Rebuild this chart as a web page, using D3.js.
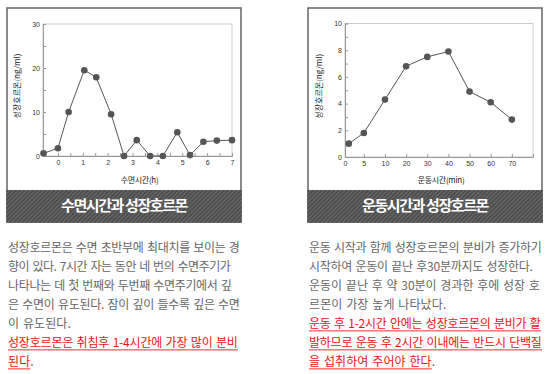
<!DOCTYPE html>
<html>
<head>
<meta charset="utf-8">
<script src="https://cdn.jsdelivr.net/npm/d3@7"></script>
<style>
body { margin: 0; background: #fff; }
svg { display: block; font-family: "Noto Sans CJK KR", "Noto Sans", sans-serif; }
.tick text { font-size: 7px; fill: #333; font-family: "Liberation Sans", "DejaVu Sans", sans-serif; }
</style>
</head>
<body>
<svg width="550" height="374"></svg>
<script>
// 수면시간 / 성장호르몬
var sleepHours = [-0.58, 0, 0.43, 1.06, 1.54, 2.14, 2.66, 3.17, 3.71, 4.22, 4.8, 5.31, 5.85, 6.39, 7];
var sleepGH = [0.6, 1.75, 10, 19.5, 17.9, 9.5, 0, 3.6, 0, 0, 5.4, 0.2, 3.25, 3.5, 3.6];
var sleepXTicks = [0, 1, 2, 3, 4, 5, 6, 7];
var sleepYTicks = [0, 10, 20, 30];

// 운동시간 / 성장호르몬
var exMinutes = [1, 5, 10, 20, 30, 40, 50, 60, 70];
var exGH = [1.0, 1.8, 4.3, 6.8, 7.5, 7.9, 4.9, 4.1, 2.8];
var exXTicks = [0, 5, 10, 20, 30, 40, 50, 60, 70];
var exYTicks = [0, 2, 4, 6, 8, 10];

var titles = ["수면시간과 성장호르몬", "운동시간과 성장호르몬"];
var xLabels = ["수면시간(h)", "운동시간(min)"];
var yLabel = "성장호르몬(ng/ml)";

var leftText = ["성장호르몬은 수면 초반부에 최대치를 보이는 경",
                "향이 있다. 7시간 자는 동안 네 번의 수면주기가",
                "나타나는 데 첫 번째와 두번째 수면주기에서 깊",
                "은 수면이 유도된다. 잠이 깊이 들수록 깊은 수면",
                "이 유도된다."];
var leftRed = ["성장호르몬은 취침후 1-4시간에 가장 많이 분비", "된다"];
var rightText = ["운동 시작과 함께 성장호르몬의 분비가 증가하기",
                 "시작하여 운동이 끝난 후30분까지도 성장한다.",
                 "운동이 끝난 후 약 30분이 경과한 후에 성장 호",
                 "르몬이 가장 높게 나타났다."];
var rightRed = ["운동 후 1-2시간 안에는 성장호르몬의 분비가 활",
                "발하므로 운동 후 2시간 이내에는 반드시 단백질",
                "을 섭취하여 주어야 한다"];
// widths of the wrapped lines (0 = natural width)
var leftWidths = [232, 223, 224, 232, 0, 230, 0];
var rightWidths = [233, 224, 231, 0, 232, 233, 0];

var svg = d3.select("svg");

var defs = svg.append("defs");
var pat = defs.append("pattern")
    .attr("id", "hatch")
    .attr("patternUnits", "userSpaceOnUse")
    .attr("width", 3).attr("height", 3)
    .attr("patternTransform", "rotate(45)");
pat.append("rect").attr("width", 3).attr("height", 3).attr("fill", "#4e4e4e");
pat.append("line").attr("x1", 0.5).attr("x2", 0.5).attr("y1", 0).attr("y2", 3)
    .attr("stroke", "#6c6c6c").attr("stroke-width", 1);

// panel boxes
var panelX = [7, 308], panelW = 234, panelTop = 8, bandTop = 190, bandBottom = 222;

panelX.forEach(function(px, i) {
    svg.append("rect")
        .attr("x", px).attr("y", panelTop)
        .attr("width", panelW).attr("height", bandBottom - panelTop)
        .attr("fill", "#fff").attr("stroke", "#666").attr("stroke-width", 1.5);
    svg.append("rect")
        .attr("x", px - 0.75).attr("y", bandTop)
        .attr("width", panelW + 1.5).attr("height", bandBottom - bandTop + 0.75)
        .attr("fill", "url(#hatch)");
    svg.append("text")
        .attr("x", px + panelW / 2).attr("y", 211)
        .attr("text-anchor", "middle")
        .attr("fill", "#fff")
        .style("font-size", "15px").style("font-weight", "bold")
        .style("letter-spacing", "-1.4px")
        .text(titles[i]);
});

function drawChart(o) {
    var g = svg.append("g");
    var x = o.x, y = o.y;
    var r = d3.extent(x.range()), ry = y.range();

    g.append("rect")
        .attr("x", r[0]).attr("y", ry[1])
        .attr("width", r[1] - r[0]).attr("height", ry[0] - ry[1])
        .attr("fill", "none").attr("stroke", "#ccc").attr("stroke-width", 1);

    // minor ticks point inward
    g.append("g")
        .attr("transform", "translate(0," + ry[0] + ")")
        .call(d3.axisBottom(x).tickValues(o.xMinor).tickSize(-3).tickFormat(""));
    var xMajor = g.append("g")
        .attr("transform", "translate(0," + ry[0] + ")")
        .call(d3.axisBottom(x).tickValues(o.xTicks).tickSize(0).tickPadding(4));
    g.append("g")
        .attr("transform", "translate(" + r[0] + ",0)")
        .call(d3.axisLeft(y).tickValues(o.yMinor).tickSize(-3).tickFormat(""));
    var yMajor = g.append("g")
        .attr("transform", "translate(" + r[0] + ",0)")
        .call(d3.axisLeft(y).tickValues(o.yTicks).tickSize(0).tickPadding(3));

    g.selectAll(".domain").attr("stroke", "#999");
    g.selectAll(".tick line").attr("stroke", "#999");
    xMajor.select(".domain").remove();
    yMajor.select(".domain").remove();

    var line = d3.line()
        .x(function(d) { return x(d[0]); })
        .y(function(d) { return y(d[1]); });
    var pts = d3.zip(o.xs, o.ys);

    g.append("path")
        .datum(pts)
        .attr("d", line)
        .attr("fill", "none")
        .attr("stroke", "#555")
        .attr("stroke-width", 1);

    g.selectAll("circle")
        .data(pts)
        .enter().append("circle")
        .attr("cx", function(d) { return x(d[0]); })
        .attr("cy", function(d) { return y(d[1]); })
        .attr("r", 3.3)
        .attr("fill", "#555");

    g.append("text")
        .attr("transform", "translate(" + o.yLabelX + "," + ((ry[0] + ry[1]) / 2 - 4) + ") rotate(-90)")
        .attr("text-anchor", "middle")
        .attr("dy", "0.35em")
        .style("font-size", "8px")
        .attr("fill", "#222")
        .text(yLabel);

    g.append("text")
        .attr("x", (r[0] + r[1]) / 2 + 2)
        .attr("y", 183)
        .attr("text-anchor", "middle")
        .style("font-size", "8px")
        .style("letter-spacing", "-0.3px")
        .attr("fill", "#222")
        .text(o.xLabel);
}

// left chart
var xSleep = d3.scaleLinear().domain([-0.6, 7]).range([43, 232]);
var ySleep = d3.scaleLinear().domain([0, 30]).range([156, 24]);
drawChart({
    x: xSleep, y: ySleep,
    xs: sleepHours, ys: sleepGH,
    xTicks: sleepXTicks, xMinor: d3.range(-0.5, 7.01, 0.5),
    yTicks: sleepYTicks, yMinor: d3.range(0, 30.01, 5),
    yLabelX: 17, xLabel: xLabels[0]
});

// right chart: uneven axis (0, 5, then every 10)
var exIndex = d3.scaleLinear()
    .domain([0, 5, 10, 20, 30, 40, 50, 60, 70, 80])
    .range([0, 0.89, 1.89, 2.89, 3.89, 4.89, 5.89, 6.89, 7.89, 8.89]);
var exPos = d3.scaleLinear().domain([0, 8.89]).range([345, 533]);
var xEx = d3.scaleLinear()
    .domain(exIndex.domain())
    .range(exIndex.range().map(exPos));
var yEx = d3.scaleLinear().domain([0, 10]).range([157, 23.5]);
drawChart({
    x: xEx, y: yEx,
    xs: exMinutes, ys: exGH,
    xTicks: exXTicks, xMinor: exXTicks,
    yTicks: exYTicks, yMinor: d3.range(0, 10.01, 1),
    yLabelX: 319, xLabel: xLabels[1]
});

// paragraphs
function drawText(x0, gray, red, widths) {
    var lineH = 19, top = 252;
    var all = gray.map(function(t) { return {t: t, red: false}; })
        .concat(red.map(function(t) { return {t: t, red: true}; }));
    all.forEach(function(d, i) {
        var t = svg.append("text")
            .attr("x", x0).attr("y", top + i * lineH)
            .style("font-size", "12px")
            .style("letter-spacing", "0.1px")
            .style("word-spacing", "1px");
        if (widths[i]) {
            t.attr("textLength", widths[i]).attr("lengthAdjust", "spacing");
        }
        t.append("tspan")
            .attr("fill", d.red ? "#f01010" : "#666")
            .text(d.t);
        if (i === all.length - 1) {
            t.append("tspan").attr("fill", "#666").text(".");
        }
        if (d.red) {
            var node = t.node();
            var x1 = node.getStartPositionOfChar(0).x;
            var x2 = node.getEndPositionOfChar(d.t.length - 1).x;
            svg.insert("rect", "text")
                .attr("x", x1).attr("y", top + i * lineH + 2)
                .attr("width", x2 - x1).attr("height", 1.6)
                .attr("fill", "#ff7b7b");
        }
    });
}
drawText(8, leftText, leftRed, leftWidths);
drawText(309, rightText, rightRed, rightWidths);
</script>
</body>
</html>
